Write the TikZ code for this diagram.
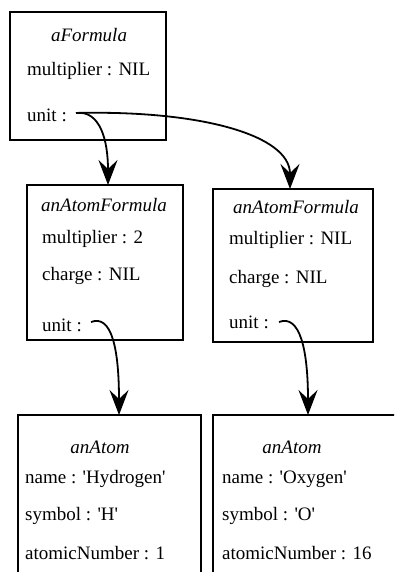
\documentclass[tikz,border=0pt]{standalone}
\usepackage{fontspec}
\setmainfont{Liberation Serif}[Ligatures=TeXOff]
\usetikzlibrary{arrows.meta}
\begin{document}
\begin{tikzpicture}[x=1pt,y=-1pt,
  objbox/.style={draw, line width=1.8pt, inner sep=0pt},
  attr/.style={anchor=base west, inner sep=0pt, font=\fontsize{19}{22}\selectfont},
  ttl/.style={anchor=base, inner sep=0pt, font=\fontsize{19}{22}\selectfont\itshape},
  link/.style={line width=1.8pt, -{Stealth[length=25pt,width=19pt,inset=9pt]}}]
\useasboundingbox (0,0) rectangle (394,572);
\clip (0,0) rectangle (394,572);
% boxes
\node[objbox, minimum width=156pt, minimum height=128pt] (f) at (88,76) {};
\node[objbox, minimum width=156pt, minimum height=155pt] (af1) at (105,262.5) {};
\node[objbox, minimum width=160pt, minimum height=153pt] (af2) at (293,265.5) {};
\node[objbox, minimum width=183pt, minimum height=205pt] (a1) at (109.5,517.5) {};
\node[objbox, minimum width=207pt, minimum height=205pt] (a2) at (316.5,517.5) {};
% texts box 1
\node[ttl] (f0) at (89,42) {aFormula};
\node[attr] (f1) at (27,76) {multiplier : NIL};
\node[attr] (f2) at (27,122) {unit :};
% box 2
\node[ttl] (g0) at (104,211) {anAtomFormula};
\node[attr] (g1) at (42,243) {multiplier : 2};
\node[attr] (g2) at (42,280) {charge : NIL};
\node[attr] (g3) at (42,331) {unit :};
% box 3
\node[ttl] (h0) at (296,213) {anAtomFormula};
\node[attr] (h1) at (229,244) {multiplier : NIL};
\node[attr] (h2) at (229,283) {charge : NIL};
\node[attr] (h3) at (229,328) {unit :};
% box 4
\node[ttl] (p0) at (100,453) {anAtom};
\node[attr] (p1) at (25,483) {name : 'Hydrogen'};
\node[attr] (p2) at (25,520) {symbol : 'H'};
\node[attr] (p3) at (25,559) {atomicNumber : 1};
% box 5
\node[ttl] (q0) at (292,453) {anAtom};
\node[attr] (q1) at (222,483) {name : 'Oxygen'};
\node[attr] (q2) at (222,520) {symbol : 'O'};
\node[attr] (q3) at (222,559) {atomicNumber : 16};
% connector ends
\coordinate (s1) at (76,113);
\coordinate (t1) at (108,185);
\coordinate (t2) at (290,189);
\coordinate (s3) at (91,322);
\coordinate (t3) at (119,415);
\coordinate (s4) at (279,322);
\coordinate (t4) at (308,415);
\draw[link] (s1) .. controls (100,110) and (108,140) .. (t1);
\draw[link] (s1) .. controls (200,110) and (290,135) .. (t2);
\draw[link] (s3) .. controls (112,314) and (119,350) .. (t3);
\draw[link] (s4) .. controls (300,314) and (308,350) .. (t4);
\end{tikzpicture}
\end{document}
